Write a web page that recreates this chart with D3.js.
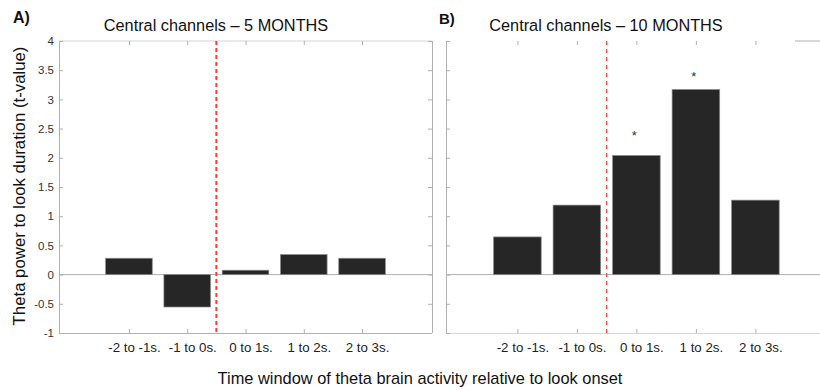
<!DOCTYPE html>
<html>
<head>
<meta charset="utf-8">
<script src="https://cdn.jsdelivr.net/npm/d3@7"></script>
<style>
  html, body { margin: 0; padding: 0; background: #fff; }
  svg { display: block; font-family: "Liberation Sans", Arial, sans-serif; }
</style>
</head>
<body>
<svg id="chart" width="820" height="390"></svg>
<script>
// Time windows around look onset
const categories = ["-2 to -1s.", "-1 to 0s.", "0 to 1s.", "1 to 2s.", "2 to 3s."];
// Theta power vs look duration (t-values), central channels
const values5mo = [0.28, -0.555, 0.075, 0.343, 0.28];
const values10mo = [0.645, 1.19, 2.04, 3.17, 1.275];
// Significance markers (height in t-value units, null = none)
const stars5mo = [null, null, null, null, null];
const stars10mo = [null, null, 2.42, 3.43, null];
const yTicks = [-1, -0.5, 0, 0.5, 1, 1.5, 2, 2.5, 3, 3.5, 4];
const yTickLabels = ["-1", "-0.5", "0", "0.5", "1", "1.5", "2", "2.5", "3", "3.5", "4"];
const onsetPosition = 2.5;

const svg = d3.select("#chart");
const axisColor = "#b0b0b0";
const barFill = "#262626";

const y = d3.scaleLinear().domain([-1, 4]).range([333, 41]);

function drawPanel(opts) {
  const x = d3.scaleLinear().domain([-0.2, 6.2]).range(opts.xRange);
  const g = svg.append("g");
  const x0 = opts.xRange[0];
  const x1 = opts.xRange[1];
  const bw = (x(2) - x(1)) * 0.8;

  // top border
  if (opts.topBorder) {
    g.append("line").attr("x1", x0).attr("x2", x1).attr("y1", y(4)).attr("y2", y(4))
      .attr("stroke", "#d4d4d4").attr("stroke-width", 1);
  }

  // zero baseline
  g.append("line").attr("x1", x0).attr("x2", x1).attr("y1", y(0)).attr("y2", y(0))
    .attr("stroke", axisColor).attr("stroke-width", 1);

  // bars
  g.selectAll("rect.bar").data(opts.values).enter().append("rect")
    .attr("class", "bar")
    .attr("x", (d, i) => x(i + 1) - bw / 2)
    .attr("width", bw)
    .attr("y", d => y(Math.max(0, d)))
    .attr("height", d => Math.abs(y(d) - y(0)))
    .attr("fill", barFill)
    .attr("stroke", "#8a8a8a")
    .attr("stroke-width", 0.7);

  // bottom axis
  const bottom = d3.axisBottom(x).tickValues([1, 2, 3, 4, 5])
    .tickSize(-4).tickFormat((d, i) => categories[i]).tickPadding(10);
  const ba = g.append("g").attr("transform", `translate(0,${y(-1)})`).call(bottom);
  ba.select(".domain").attr("stroke", opts.bottomColor).attr("d", `M${x0},0.5H${x1}`);
  ba.selectAll(".tick line").attr("stroke", axisColor);
  ba.selectAll(".tick text")
    .attr("font-size", 13.3).attr("fill", "#222").attr("dx", 5)
    .attr("font-family", "Liberation Sans, Arial, sans-serif");

  // top ticks
  const top = d3.axisTop(x).tickValues([1, 2, 3, 4, 5]).tickSize(-4).tickFormat("");
  const ta = g.append("g").attr("transform", `translate(0,${y(4)})`).call(top);
  ta.select(".domain").remove();
  ta.selectAll(".tick line").attr("stroke", axisColor);

  // left axis
  const left = d3.axisLeft(y).tickValues(yTicks).tickSize(-4)
    .tickFormat((d, i) => opts.showYLabels ? yTickLabels[i] : "").tickPadding(5);
  const la = g.append("g").attr("transform", `translate(${x0},0)`).call(left);
  la.select(".domain").attr("stroke", axisColor).attr("d", `M0.5,${y(4)}V${y(-1)}`);
  la.selectAll(".tick line").attr("stroke", axisColor);
  la.selectAll(".tick text").attr("font-size", 11.5).attr("fill", "#333")
    .attr("font-family", "Liberation Sans, Arial, sans-serif");

  // right box edge
  if (opts.rightBorder) {
    const right = d3.axisRight(y).tickValues(yTicks).tickSize(-4).tickFormat("");
    const ra = g.append("g").attr("transform", `translate(${x1},0)`).call(right);
    ra.select(".domain").attr("stroke", axisColor).attr("d", `M0.5,${y(4)}V${y(-1)}`);
    ra.selectAll(".tick line").attr("stroke", axisColor);
  }

  // look onset marker
  g.append("line")
    .attr("x1", x(onsetPosition)).attr("x2", x(onsetPosition))
    .attr("y1", y(4)).attr("y2", y(-1))
    .attr("stroke", "#ff3a3a").attr("stroke-width", opts.onsetWidth)
    .attr("stroke-dasharray", opts.onsetDash);

  // significance stars
  g.selectAll("text.star").data(opts.stars.map((s, i) => ({ s, i })).filter(d => d.s !== null))
    .enter().append("text")
    .attr("class", "star")
    .attr("x", d => x(d.i + 1) - 2)
    .attr("y", d => y(d.s) + 7)
    .attr("text-anchor", "middle")
    .attr("font-size", 13)
    .attr("fill", "#333")
    .text("*");

  // panel title
  svg.append("text")
    .attr("x", opts.titleX).attr("y", 31)
    .attr("text-anchor", "middle")
    .attr("font-size", 16.3).attr("fill", "#111")
    .text(opts.title);

  // panel letter
  svg.append("text")
    .attr("x", opts.letterX).attr("y", opts.letterY)
    .attr("font-size", opts.letterSize).attr("font-weight", "bold").attr("fill", "#111")
    .text(opts.letter);

  return x;
}

drawPanel({
  xRange: [59, 432], values: values5mo, stars: stars5mo,
  title: "Central channels \u2013 5 MONTHS", titleX: 216,
  letter: "A)", letterX: 13, letterY: 23, letterSize: 16,
  topBorder: true, rightBorder: true, showYLabels: true,
  bottomColor: axisColor, onsetWidth: 2, onsetDash: "4,3"
});

drawPanel({
  xRange: [446, 826.8], values: values10mo, stars: stars10mo,
  title: "Central channels \u2013 10 MONTHS", titleX: 606,
  letter: "B)", letterX: 439, letterY: 24, letterSize: 15,
  topBorder: false, rightBorder: false, showYLabels: false,
  bottomColor: "#d6d6d6", onsetWidth: 1.2, onsetDash: "4,4"
});

// short top edge segment at the far right of panel B
svg.append("line").attr("x1", 795).attr("x2", 820).attr("y1", y(4)).attr("y2", y(4))
  .attr("stroke", axisColor).attr("stroke-width", 1);

// shared axis titles
svg.append("text")
  .attr("transform", `translate(25,186) rotate(-90)`)
  .attr("text-anchor", "middle")
  .attr("font-size", 16.8).attr("fill", "#111")
  .text("Theta power to look duration (t-value)");

svg.append("text")
  .attr("x", 420).attr("y", 384)
  .attr("text-anchor", "middle")
  .attr("font-size", 16.4).attr("fill", "#111")
  .text("Time window of theta brain activity relative to look onset");
</script>
</body>
</html>
